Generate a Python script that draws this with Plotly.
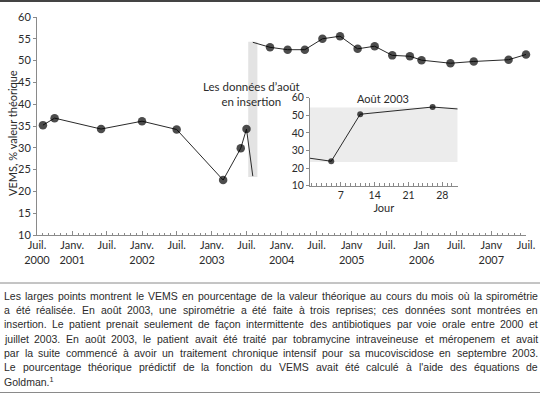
import unicodedata
import plotly.graph_objects as go

# ---------------- data ----------------
pre_dates = ["2000-08-01", "2000-10-01", "2001-06-01", "2002-01-01", "2002-07-01",
             "2003-03-01", "2003-06-01", "2003-07-01"]
pre_vals = [35.2, 36.8, 34.3, 36.1, 34.2, 22.6, 29.9, 34.3]

aug_date = "2003-08-03"
aug_low = 23.5
aug_high = 54.2
band_start, band_end = "2003-07-10", "2003-08-27"
band_low, band_high = 23.3, 54.3

post_dates = ["2003-11-01", "2004-02-01", "2004-05-01", "2004-08-01", "2004-11-01",
              "2005-02-01", "2005-05-01", "2005-08-01", "2005-11-01", "2006-01-01",
              "2006-06-01", "2006-10-01", "2007-04-01", "2007-07-01"]
post_vals = [53.05, 52.5, 52.5, 55.0, 55.6, 52.7, 53.3, 51.2, 51.0, 50.1,
             49.4, 49.8, 50.2, 51.4]

tick_dates = ["2000-07-01", "2001-01-01", "2001-07-01", "2002-01-01", "2002-07-01",
              "2003-01-01", "2003-07-01", "2004-01-01", "2004-07-01", "2005-01-01",
              "2005-07-01", "2006-01-01", "2006-07-01", "2007-01-01", "2007-07-01"]
tick_text = ["Juil.<br>2000", "Janv.<br>2001", "Juil.", "Janv.<br>2002", "Juil.",
             "Janv.<br>2003", "Juil.", "Janv.<br>2004", "Juil.", "Janv<br>2005",
             "Juil.", "Jan<br>2006", "Juil.", "Janv<br>2007", "Juil."]

inset_days = [5, 11, 26]
inset_vals = [23.9, 50.6, 54.7]
inset_start_day, inset_start_val = 0.6, 25.6
inset_end_day, inset_end_val = 31.2, 53.6
inset_band_low, inset_band_high = 23.5, 54.5

caption_lines = [
    "Les larges points montrent le VEMS en pourcentage de la valeur théorique au cours du mois où la spirométrie",
    "a été réalisée. En août 2003, une spirométrie a été faite à trois reprises; ces données sont montrées en",
    "insertion. Le patient prenait seulement de façon intermittente des antibiotiques par voie orale entre 2000 et",
    "juillet 2003. En août 2003, le patient avait été traité par tobramycine intraveineuse et méropenem et avait",
    "par la suite commencé à avoir un traitement chronique intensif pour sa mucoviscidose en septembre 2003.",
    "Le pourcentage théorique prédictif de la fonction du VEMS avait été calculé à l'aide des équations de",
    "Goldman.<sup>1</sup>",
]

# ---------------- layout helpers ----------------
W, H = 540, 395
ML, MR, MT, MB = 37, 14, 17, 160
PW = W - ML - MR
PH = H - MT - MB


def px(x):
    return (x - ML) / PW


def py(y):
    return 1 - (y - MT) / PH


FONT = "Lato"
CAP_FONT = "Liberation Sans"
LINE = "#2a2a2a"
AXIS = "#8a8a8a"
TXT = "#2b2b2b"
DOT = "#000000"

fig = go.Figure()

# main series
fig.add_trace(go.Scatter(
    x=pre_dates + [aug_date], y=pre_vals + [aug_low], mode="lines+markers",
    line=dict(color=LINE, width=1),
    marker=dict(color=DOT, size=[8.5] * len(pre_vals) + [0], line=dict(width=0)),
    showlegend=False, hoverinfo="skip", cliponaxis=False))
fig.add_trace(go.Scatter(
    x=[aug_date] + post_dates, y=[aug_high] + post_vals, mode="lines+markers",
    line=dict(color=LINE, width=1),
    marker=dict(color=DOT, size=[0] + [8.5] * len(post_vals), line=dict(width=0)),
    showlegend=False, hoverinfo="skip", cliponaxis=False))

# inset series
fig.add_trace(go.Scatter(
    x=[inset_start_day] + inset_days + [inset_end_day],
    y=[inset_start_val] + inset_vals + [inset_end_val],
    mode="lines+markers", xaxis="x2", yaxis="y2",
    line=dict(color=LINE, width=1),
    marker=dict(color=DOT, size=[0] + [6] * len(inset_days) + [0], line=dict(width=0)),
    showlegend=False, hoverinfo="skip", cliponaxis=False))

shapes = [
    dict(type="rect", xref="x", yref="y", x0=band_start, x1=band_end,
         y0=band_low, y1=band_high, fillcolor="#e3e3e3", line=dict(width=0), layer="below"),
    dict(type="rect", xref="x2", yref="y2", x0=inset_start_day, x1=inset_end_day,
         y0=inset_band_low, y1=inset_band_high, fillcolor="#ececec", line=dict(width=0), layer="below"),
    # rules
    dict(type="line", xref="paper", yref="paper", x0=px(0), x1=px(W), y0=py(1), y1=py(1),
         line=dict(color="#444", width=2)),
    dict(type="line", xref="paper", yref="paper", x0=px(0), x1=px(W), y0=py(283), y1=py(283),
         line=dict(color="#8a8a8a", width=1)),
    dict(type="line", xref="paper", yref="paper", x0=px(0), x1=px(W), y0=py(392.5), y1=py(392.5),
         line=dict(color="#8a8a8a", width=1)),
]

annotations = [
    dict(text="VEMS, % valeur théorique", xref="paper", yref="paper", x=px(12), y=py(133),
         xanchor="center", yanchor="middle",
         textangle=-90, showarrow=False, font=dict(family=FONT, size=11, color=TXT)),
    dict(text="Les données d’août<br>en insertion", xref="paper", yref="paper",
         x=px(251), y=py(94.5), xanchor="center", yanchor="middle", showarrow=False,
         align="center", font=dict(family=FONT, size=11.5, color=TXT)),
    dict(text="Août 2003", xref="paper", yref="paper", x=px(383), y=py(98),
         xanchor="center", yanchor="middle",
         showarrow=False, font=dict(family=FONT, size=11, color=TXT)),
]

# ---------------- justified caption ----------------
AW = {' ': 278, "'": 191, '’': 222, '(': 333, ')': 333, ',': 278, '-': 333, '.': 278,
      ':': 278, ';': 278,
      'A': 667, 'B': 667, 'C': 722, 'D': 722, 'E': 667, 'F': 611, 'G': 778, 'H': 722,
      'I': 278, 'J': 500, 'K': 667, 'L': 556, 'M': 833, 'N': 722, 'O': 778, 'P': 667,
      'Q': 778, 'R': 722, 'S': 667, 'T': 611, 'U': 722, 'V': 667, 'W': 944, 'X': 667,
      'Y': 667, 'Z': 611,
      'a': 556, 'b': 556, 'c': 500, 'd': 556, 'e': 556, 'f': 278, 'g': 556, 'h': 556,
      'i': 222, 'j': 222, 'k': 500, 'l': 222, 'm': 833, 'n': 556, 'o': 556, 'p': 556,
      'q': 556, 'r': 333, 's': 500, 't': 278, 'u': 556, 'v': 500, 'w': 722, 'x': 500,
      'y': 500, 'z': 500}


def em_width(word):
    tot = 0
    for ch in word:
        base = unicodedata.normalize("NFD", ch)[0]
        if base.isdigit():
            tot += 556
        else:
            tot += AW.get(base, 556)
    return tot / 1000.0


CAP_X0, CAP_X1 = 3, 537
CAP_Y0, CAP_DY = 296, 14.2
min_gap = 2.6
fs = 10.5
for line in caption_lines[:-1]:
    words = line.split(" ")
    ems = sum(em_width(w) for w in words)
    fs = min(fs, (CAP_X1 - CAP_X0 - (len(words) - 1) * min_gap) / ems)

for i, line in enumerate(caption_lines):
    yy = py(CAP_Y0 + i * CAP_DY)
    if i == len(caption_lines) - 1:
        annotations.append(dict(text=line, xref="paper", yref="paper", x=px(CAP_X0 - 1), y=yy,
                                xanchor="left", yanchor="middle", showarrow=False,
                                font=dict(family=CAP_FONT, size=fs, color=TXT)))
        continue
    words = line.split(" ")
    widths = [em_width(w) * fs for w in words]
    gap = (CAP_X1 - CAP_X0 - sum(widths)) / (len(words) - 1)
    xpos = CAP_X0
    for w, wd in zip(words, widths):
        annotations.append(dict(text=w, xref="paper", yref="paper", x=px(xpos - 1), y=yy,
                                xanchor="left", yanchor="middle", showarrow=False,
                                font=dict(family=CAP_FONT, size=fs, color=TXT)))
        xpos += wd + gap

fig.update_layout(
    width=W, height=H, margin=dict(l=ML, r=MR, t=MT, b=MB, autoexpand=False),
    paper_bgcolor="white", plot_bgcolor="white",
    font=dict(family=FONT, size=11, color=TXT),
    shapes=shapes, annotations=annotations,
    xaxis=dict(type="date", range=["2000-07-01", "2007-07-01"], tickmode="array",
               tickvals=tick_dates, ticktext=tick_text, ticks="inside", ticklen=4,
               tickcolor=AXIS, tickwidth=1, showline=True, linecolor=AXIS, linewidth=1,
               showgrid=False, zeroline=False, tickfont=dict(family=FONT, size=11, color=TXT),
               minor=dict(tick0="2000-07-01", dtick="M1", ticks="inside", ticklen=2,
                          tickcolor=AXIS, showgrid=False),
               domain=[0, 1]),
    yaxis=dict(range=[10, 60], tickmode="linear", tick0=10, dtick=5, ticks="outside",
               ticklen=3, tickcolor=AXIS, showline=True, linecolor=AXIS, linewidth=1,
               showgrid=False, zeroline=False, tickfont=dict(family=FONT, size=11, color=TXT),
               domain=[0, 1]),
    xaxis2=dict(anchor="y2", domain=[px(310), px(457.7)], range=[inset_start_day, inset_end_day],
                tickmode="array", tickvals=[7, 14, 21, 28], ticks="inside", ticklen=4,
                tickcolor=AXIS, showline=True, linecolor=AXIS, linewidth=1, showgrid=False,
                zeroline=False, tickfont=dict(family=FONT, size=10.5, color=TXT),
                minor=dict(tick0=0, dtick=1, ticks="inside", ticklen=3, tickcolor=AXIS,
                           showgrid=False),
                title=dict(text="Jour", font=dict(family=FONT, size=11, color=TXT), standoff=2)),
    yaxis2=dict(anchor="x2", domain=[py(185.7), py(97.7)], range=[10, 60], tickmode="linear",
                tick0=10, dtick=10, ticks="outside", ticklen=3, tickcolor=AXIS, showline=True,
                linecolor=AXIS, linewidth=1, showgrid=False, zeroline=False,
                tickfont=dict(family=FONT, size=10.5, color=TXT)),
)

fig.write_html("out.html", config={"displayModeBar": False, "staticPlot": True},
               post_script="document.body.style.margin='0';document.body.style.overflow='hidden';")
